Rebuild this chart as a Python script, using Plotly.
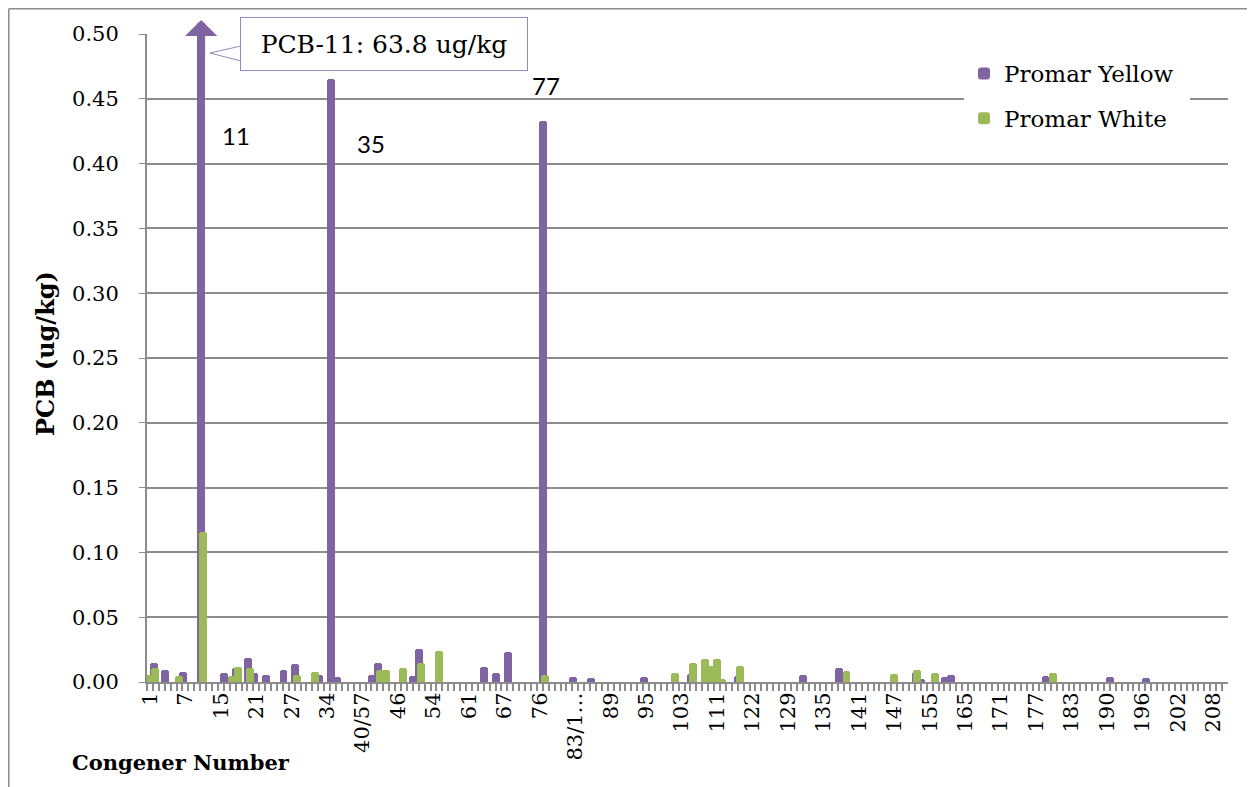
import plotly.graph_objects as go

# ---------------- data ----------------
categories = [
    "1", "2", "3", "4", "5", "6",
    "7", "8", "9/10", "11", "12/13", "14",
    "15", "16", "17", "18", "19", "20",
    "21", "22", "23", "24", "25", "26/29",
    "27", "28", "30", "31", "32", "33",
    "34", "35", "36", "37", "38", "39",
    "40/57", "41", "42", "43", "44", "45",
    "46", "47", "48", "49", "50", "51/52",
    "54", "55", "56", "58", "59", "60",
    "61", "62", "63", "64", "65", "66",
    "67", "68", "69/73", "70/74", "71", "72/75",
    "76", "77", "78", "79", "80", "81/82",
    "83/119", "84", "85", "86", "87", "88",
    "89", "90", "91", "92", "93", "94",
    "95", "96", "97", "98", "99", "100/102",
    "103", "104", "105", "106", "107/108", "109/110",
    "111", "112", "113/114", "115/116", "118", "120",
    "122", "123", "124", "126", "127", "128",
    "129", "130", "131", "132", "133", "134",
    "135", "136", "137", "138", "139", "140",
    "141", "142", "143", "144", "145", "146",
    "147", "148", "150", "151", "153", "154",
    "155", "156", "157", "158", "159/160", "161/163",
    "165", "166", "167", "168", "169", "170",
    "171", "172", "173", "174", "175", "176",
    "177", "178", "179", "180", "181", "182",
    "183", "184", "185", "186", "187", "188/189",
    "190", "191", "192", "193", "194", "195",
    "196", "197", "198", "199", "200", "201",
    "202", "203", "204", "205", "206", "207",
    "208", "209",
]

tick_labels = ["1", "7", "15", "21", "27", "34", "40/57", "46", "54", "61",
               "67", "76", "83/1…", "89", "95", "103", "111", "122", "129",
               "135", "141", "147", "155", "165", "171", "177", "183", "190",
               "196", "202", "208"]
label_every = 6

yellow_congeners = ["2", "4", "7", "11", "16", "18", "20", "21", "23", "26/29",
                    "28", "33", "35", "36", "42", "43", "49", "50", "64", "66",
                    "68", "77", "83/119", "86", "95", "105", "118", "132",
                    "138", "153", "154", "158", "159/160", "179", "191", "197"]
yellow_values = [0.0149, 0.0095, 0.0080, 63.8, 0.0067, 0.0105, 0.0187, 0.0072,
                 0.0054, 0.0095, 0.0136, 0.0054, 0.465, 0.0041, 0.0054, 0.0149,
                 0.0046, 0.0251, 0.0118, 0.0067, 0.0228, 0.433, 0.0038, 0.0028,
                 0.0041, 0.0064, 0.0046, 0.0054, 0.0110, 0.0077, 0.0026,
                 0.0038, 0.0051, 0.0046, 0.0038, 0.0028]

white_congeners = ["1", "2", "6", "11", "17", "18", "20", "28", "32", "43", "44",
                   "47", "50", "55", "77", "100/102", "105", "107/108",
                   "109/110", "111", "112", "118", "139", "147", "153", "156",
                   "180"]
white_values = [0.0054, 0.0110, 0.0046, 0.116, 0.0044, 0.0113, 0.0110, 0.0054,
                0.0077, 0.0092, 0.0092, 0.0110, 0.0144, 0.0238, 0.0051, 0.0067,
                0.0144, 0.0174, 0.0123, 0.0174, 0.0026, 0.0123, 0.0082, 0.0062,
                0.0092, 0.0067, 0.0067]


def expand(names, vals):
    lookup = dict(zip(names, vals))
    return [lookup.get(c) for c in categories]


yellow = expand(yellow_congeners, yellow_values)
white = expand(white_congeners, white_values)
ticktext = [tick_labels[i // label_every] if i % label_every == 0 else ""
            for i in range(len(categories))]

# ---------------- style ----------------
PURPLE = "#8064A2"
GREEN = "#9BBB59"
GRID = "#8c8c8c"
CALLOUT = "#9d87be"
SERIF = "DejaVu Serif"

OFF = 8                      # page body margin
PAGE_W, PAGE_H = 1255, 787
PLOT_L, PLOT_R, PLOT_T, PLOT_B = 147, 1228, 34, 682   # page pixels

W, H = PAGE_W - OFF, PAGE_H - OFF
L, T = PLOT_L - OFF, PLOT_T - OFF
R, B = PAGE_W - PLOT_R, PAGE_H - PLOT_B
PW, PH = PLOT_R - PLOT_L, PLOT_B - PLOT_T


def px(xp):
    return (xp - PLOT_L) / PW


def py(yp):
    return (PLOT_B - yp) / PH


fig = go.Figure()
fig.add_bar(x=categories, y=yellow, name="Promar Yellow",
            marker=dict(color=PURPLE, cornerradius=3, line=dict(width=0)),
            width=1.35, offset=-1.07, legendgroup="y")
fig.add_bar(x=categories, y=white, name="Promar White",
            marker=dict(color=GREEN, cornerradius=3, line=dict(width=0)),
            width=1.35, offset=-0.76, legendgroup="w")

fig.update_layout(
    width=W, height=H,
    margin=dict(l=L, r=R, t=T, b=B, pad=0, autoexpand=False),
    paper_bgcolor="white", plot_bgcolor="white",
    barmode="overlay", bargap=0,
    font=dict(family=SERIF, size=21, color="black"),
    showlegend=True,
    legend=dict(x=px(964), y=py(52), xanchor="left", yanchor="top",
                bgcolor="white", borderwidth=0, font=dict(size=23),
                tracegroupgap=12, traceorder="grouped"),
    xaxis=dict(type="category", categoryorder="array",
               categoryarray=categories,
               range=[-0.5, len(categories) + 0.5],
               tickmode="array", tickvals=categories, ticktext=ticktext,
               tickangle=-90, ticks="outside", ticklen=7, tickwidth=2,
               tickcolor=GRID, tickson="boundaries",
               showline=True, linecolor=GRID, linewidth=2,
               showgrid=False, zeroline=False,
               tickfont=dict(family=SERIF, size=21)),
    yaxis=dict(range=[0, 0.5], tick0=0, dtick=0.05, tickformat=".2f",
               ticks="outside", ticklen=6, tickwidth=1, tickcolor=GRID,
               ticklabelstandoff=16,
               showline=True, linecolor=GRID, linewidth=2,
               showgrid=True, gridcolor=GRID, gridwidth=2, zeroline=False,
               tickfont=dict(family=SERIF, size=21)),
)

# white backing that widens the legend's cut in the gridlines
fig.add_shape(type="rect", xref="paper", yref="paper",
              x0=px(964), x1=px(1190), y0=py(142), y1=py(52),
              fillcolor="white", line=dict(width=0), layer="above")

# callout wedge
wx0, wxt = px(241), px(210)
fig.add_shape(type="path",
              path=f"M {wx0},{py(46)} L {wxt},{py(53)} L {wx0},{py(61)} Z",
              xref="paper", yref="paper", fillcolor="white",
              line=dict(color=CALLOUT, width=1), layer="above")

# outer chart border (left and top edges)
fig.add_shape(type="line", xref="paper", yref="paper",
              x0=px(8.75), x1=px(8.75), y0=py(8.75), y1=py(800),
              line=dict(color=GRID, width=1.5))
fig.add_shape(type="line", xref="paper", yref="paper",
              x0=px(8.75), x1=px(1270), y0=py(8.75), y1=py(8.75),
              line=dict(color=GRID, width=1.5))

label_font = dict(family="Lato", size=24, color="black")
annotations = [
    # arrow for the off-scale PCB-11 bar
    dict(x=categories.index("11"), xref="x", y=py(20), yref="paper", text="",
         showarrow=True, ax=0, ay=40, arrowhead=1, arrowsize=0.67,
         arrowwidth=8, arrowcolor=PURPLE, xshift=-2, standoff=0),
    # callout box
    dict(x=px(384), y=py(44), xref="paper", yref="paper",
         text="PCB-11: 63.8 ug/kg", showarrow=False, xanchor="center",
         yanchor="middle", bordercolor=CALLOUT, borderwidth=1,
         bgcolor="white", width=284, height=50,
         font=dict(family=SERIF, size=25, color="black")),
    # congener labels
    dict(x=px(236), y=py(135), xref="paper", yref="paper", text="11",
         xanchor="center", yanchor="middle", showarrow=False, font=label_font),
    dict(x=px(371), y=py(143), xref="paper", yref="paper", text="35",
         xanchor="center", yanchor="middle", showarrow=False, font=label_font),
    dict(x=px(546), y=py(85), xref="paper", yref="paper", text="77",
         xanchor="center", yanchor="middle", showarrow=False, font=label_font),
    # axis titles
    dict(x=px(45), y=py(354), xref="paper", yref="paper",
         text="<b>PCB (ug/kg)</b>", textangle=-90, showarrow=False,
         xanchor="center", yanchor="middle",
         font=dict(family=SERIF, size=24, color="black")),
    dict(x=px(70), y=py(762), xref="paper", yref="paper",
         text="<b>Congener Number</b>", showarrow=False,
         xanchor="left", yanchor="middle",
         font=dict(family=SERIF, size=21, color="black")),
]
fig.update_layout(annotations=annotations)

fig.write_html("out.html")
